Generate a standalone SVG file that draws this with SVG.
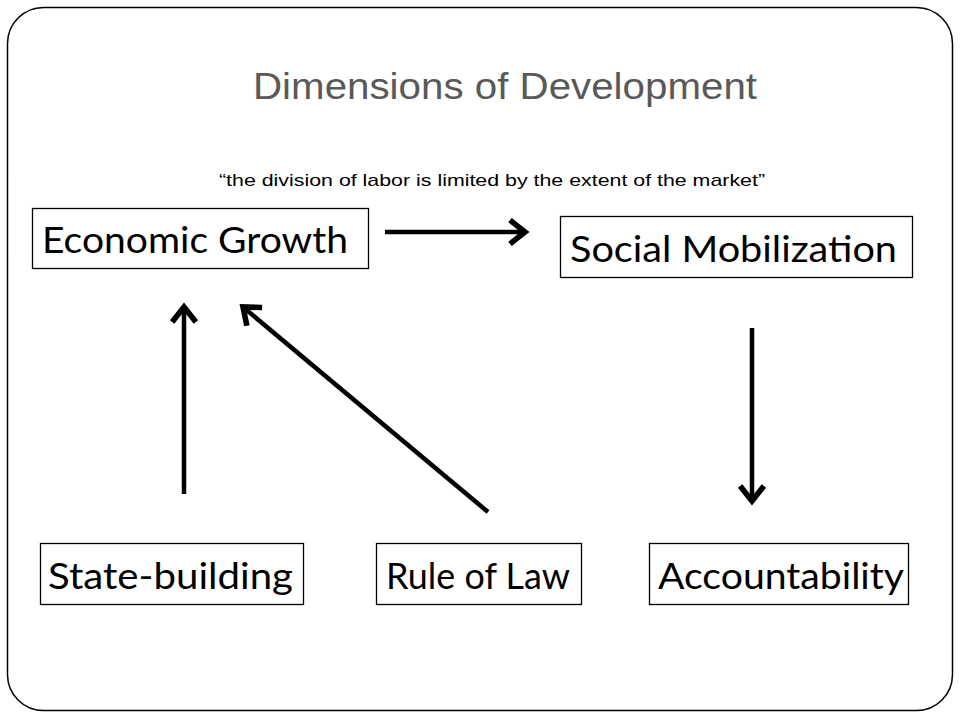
<svg xmlns="http://www.w3.org/2000/svg" width="960" height="720" viewBox="0 0 960 720">
<style>
.box{fill:#fff;stroke:#000;stroke-width:1.3}
.lbl{font-family:Lato,"Open Sans","Liberation Sans",sans-serif;font-size:37px;fill:#000}
.conn{stroke:#000;stroke-width:4.5;fill:none}
</style>
<defs>
<marker id="chev" markerUnits="userSpaceOnUse" markerWidth="30" markerHeight="30" viewBox="-16 -12 20 24" refX="0" refY="0" orient="auto">
<path d="M -12 -9.5 L 0 0 L -12 9.5" fill="none" stroke="#000" stroke-width="4.5" stroke-linejoin="miter" stroke-linecap="butt"/>
</marker>
</defs>
<rect x="0" y="0" width="960" height="720" fill="#fff"/>
<rect id="frame" x="7.5" y="7.5" width="945" height="703" rx="36" ry="36" fill="none" stroke="#000" stroke-width="1.5"/>
<text x="505" y="99" text-anchor="middle" font-family="'Liberation Sans',Arial,sans-serif" font-size="37" fill="#595959" textLength="504" lengthAdjust="spacingAndGlyphs">Dimensions of Development</text>
<text x="492" y="186" text-anchor="middle" font-family="'Liberation Sans',Arial,sans-serif" font-size="17" fill="#000" textLength="546" lengthAdjust="spacingAndGlyphs">“the division of labor is limited by the extent of the market”</text>
<g id="economic-growth"><rect class="box" x="32.5" y="208.5" width="336" height="60"/><text class="lbl" x="42" y="253" textLength="306" lengthAdjust="spacingAndGlyphs">Economic Growth</text></g>
<g id="social-mobilization"><rect class="box" x="560.5" y="216.5" width="352" height="61"/><text class="lbl" x="570" y="262" textLength="327" lengthAdjust="spacingAndGlyphs">Social Mobilization</text></g>
<g id="state-building"><rect class="box" x="40.5" y="543.5" width="263" height="61"/><text class="lbl" x="48" y="589" textLength="245" lengthAdjust="spacingAndGlyphs">State-building</text></g>
<g id="rule-of-law"><rect class="box" x="376.5" y="543.5" width="205" height="61"/><text class="lbl" x="386" y="589" textLength="184" lengthAdjust="spacingAndGlyphs">Rule of Law</text></g>
<g id="accountability"><rect class="box" x="649.5" y="543.5" width="259" height="61"/><text class="lbl" x="658" y="589" textLength="246" lengthAdjust="spacingAndGlyphs">Accountability</text></g>
<g id="connectors" class="conn">
<line x1="385" y1="232" x2="525" y2="232" marker-end="url(#chev)"/>
<line x1="184" y1="494" x2="184" y2="307" marker-end="url(#chev)"/>
<line x1="488" y1="512" x2="243" y2="307" marker-end="url(#chev)"/>
<line x1="752" y1="328" x2="752" y2="501" marker-end="url(#chev)"/>
</g>
</svg>
